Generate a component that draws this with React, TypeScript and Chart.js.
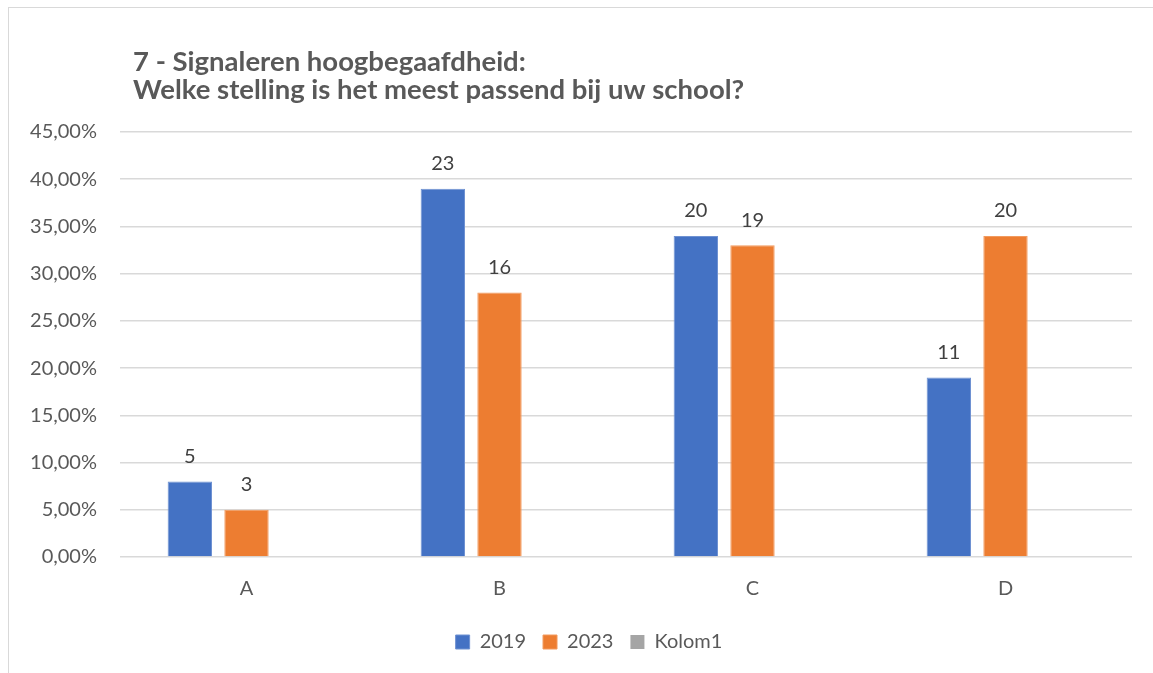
import React, { useEffect, useRef } from "react";
import { Chart, registerables } from "chart.js";

Chart.register(...registerables);

const categories = ["A", "B", "C", "D"];
const series2019 = [8, 39, 34, 19];
const series2023 = [5, 28, 33, 34];
const seriesKolom1: (number | null)[] = [null, null, null, null];
const counts2019 = [5, 23, 20, 11];
const counts2023 = [3, 16, 19, 20];
const titleLines = ["7 - Signaleren hoogbegaafdheid:", "Welke stelling is het meest passend bij uw school?"];

const FONT = "Lato, 'Open Sans', sans-serif";

const titlePlugin = {
  id: "customTitle",
  afterDraw(chart: any) {
    const ctx = chart.ctx;
    ctx.save();
    ctx.fillStyle = "#595959";
    ctx.font = `bold 27.5px ${FONT}`;
    ctx.textAlign = "left";
    ctx.textBaseline = "alphabetic";
    ctx.fillText(titleLines[0], 133, 71);
    ctx.fillText(titleLines[1], 133, 99);
    ctx.restore();
  },
};

const legendShiftPlugin = {
  id: "legendShift",
  afterLayout(chart: any) {
    const l = chart.legend;
    if (l) {
      l.left += 23;
      l.right += 23;
    }
  },
};

const labelPlugin = {
  id: "countLabels",
  afterDatasetsDraw(chart: any) {
    const ctx = chart.ctx;
    const countSets = [counts2019, counts2023];
    ctx.save();
    ctx.fillStyle = "#404040";
    ctx.font = `20px ${FONT}`;
    ctx.textAlign = "center";
    ctx.textBaseline = "middle";
    countSets.forEach((counts, di) => {
      const meta = chart.getDatasetMeta(di);
      meta.data.forEach((bar: any, i: number) => {
        ctx.fillText(String(counts[i]), bar.x, bar.y - 25);
      });
    });
    ctx.restore();
  },
};

export default function App() {
  const ref = useRef<HTMLCanvasElement>(null);
  useEffect(() => {
    if (!ref.current) return;
    const chart = new Chart(ref.current, {
      type: "bar",
      data: {
        labels: categories,
        datasets: [
          { label: "2019", data: series2019, backgroundColor: "#4472C4", borderColor: "#6F92D2", borderWidth: 1 },
          { label: "2023", data: series2023, backgroundColor: "#ED7D31", borderColor: "#F29A5E", borderWidth: 1 },
          { label: "Kolom1", data: seriesKolom1 as any, backgroundColor: "#A5A5A5" },
        ],
      },
      options: {
        animation: false,
        responsive: false,
        maintainAspectRatio: false,
        layout: { padding: { left: 0, right: 21, top: 132, bottom: 11 } },
        datasets: { bar: { categoryPercentage: 0.672, barPercentage: 0.783 } },
        scales: {
          x: {
            grid: { display: false },
            border: { display: false },
            ticks: { color: "#595959", font: { family: FONT, size: 20 }, padding: 12 },
            afterFit: (s: any) => { s.height = 58; },
          },
          y: {
            min: 0,
            max: 45,
            ticks: {
              stepSize: 5,
              color: "#595959",
              padding: 23,
              font: { family: FONT, size: 20 },
              callback: (v: any) => Number(v).toFixed(2).replace(".", ",") + "%",
            },
            grid: { color: "#D9D9D9", lineWidth: 1.5, drawTicks: false },
            border: { display: false },
            afterFit: (s: any) => { s.width = 120; },
          },
        },
        plugins: {
          title: { display: false },
          tooltip: { enabled: false },
          legend: {
            position: "bottom",
            labels: {
              color: "#595959",
              font: { family: FONT, size: 20 },
              boxWidth: 14,
              boxHeight: 14,
              padding: 17,
            },
          },
        },
      },
      plugins: [titlePlugin, labelPlugin, legendShiftPlugin],
    });
    return () => chart.destroy();
  }, []);
  return (
    <div style={{ position: "fixed", left: 0, top: 0, width: 1153, height: 673, background: "#fff", overflow: "hidden" }}>
      <div style={{ position: "absolute", left: 8, top: 7, width: 1200, height: 700, border: "1px solid #D9D9D9", boxSizing: "border-box" }} />
      <canvas ref={ref} width={1153} height={673} style={{ position: "absolute", left: 0, top: 0 }} />
    </div>
  );
}
